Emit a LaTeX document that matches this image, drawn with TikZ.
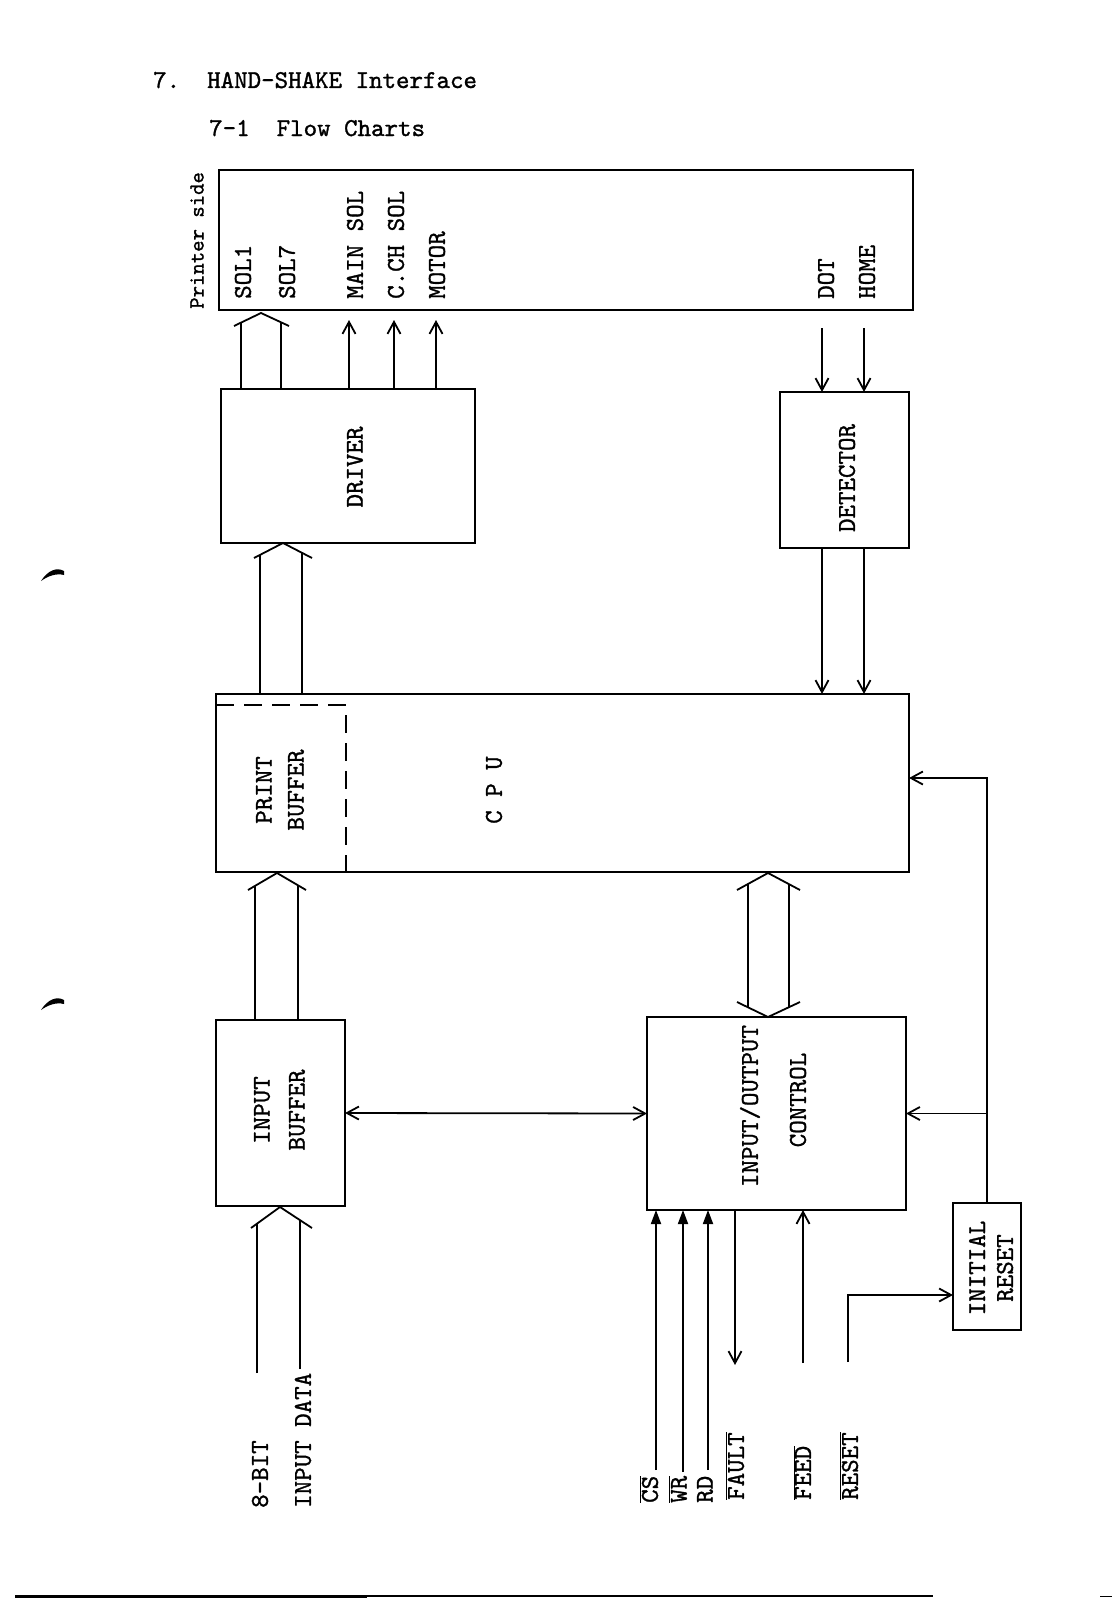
\documentclass[tikz,border=0pt]{standalone}
\usepackage{fontspec}
\newfontfamily\tw[Extension=.otf, FakeBold=1.2]{lmmono10-regular}
\usetikzlibrary{arrows.meta}
\tikzset{
  blk/.style={draw, line width=2.2pt, inner sep=0pt, outer sep=0pt, anchor=north west},
  txt/.style={inner sep=0pt, font=\tw\fontsize{25.7}{30}\selectfont},
  vtxt/.style={txt, rotate=90},
  wire/.style={line width=1.8pt},
  bus/.style={wire, line join=miter},
  oarr/.style={wire, -{Straight Barb[length=12pt,width=13pt]}},
  farr/.style={wire, -{Triangle[length=14pt,width=10pt]}},
  barr/.style={wire, {Straight Barb[length=12pt,width=13pt]}-{Straight Barb[length=12pt,width=13pt]}},
}
\begin{document}
\begin{tikzpicture}[x=1pt,y=-1pt,line join=miter]
\useasboundingbox (0,0) rectangle (1119,1600);
%% Heading
\node[txt, anchor=base west] (head) at (153,88) {7.\ \ HAND-SHAKE Interface};
\node[txt, anchor=base west] (sub) at (209,136) {7-1\ \ Flow Charts};
%% Blocks
\node[blk, minimum width=694pt, minimum height=140pt] (prn) at (219,170) {};
\node[blk, minimum width=254pt, minimum height=154pt] (drv) at (221,389) {};
\node[blk, minimum width=129pt, minimum height=156pt] (det) at (780,392) {};
\node[blk, minimum width=693pt, minimum height=178pt] (cpu) at (216,694) {};
\node[blk, minimum width=129pt, minimum height=186pt] (inb) at (216,1020) {};
\node[blk, minimum width=259pt, minimum height=193pt] (ioc) at (647,1017) {};
\node[blk, minimum width=68pt, minimum height=127pt] (rst) at (953,1203) {};
%% Block texts
\node[vtxt, anchor=west, font=\tw\fontsize{21.7}{25}\selectfont] (side) at (197,309) {Printer side};
\foreach \x/\t/\n in {243/SOL1/sa, 287/SOL7/sb, 355/MAIN SOL/sc, 396/C.CH SOL/sd,
    437/MOTOR/se, 826/DOT/sf, 867/HOME/sg}
  \node[vtxt, anchor=west] (\n) at (\x,299) {\t};
\node[vtxt] (drvtxt) at (355,467) {DRIVER};
\node[vtxt] (dettxt) at (847,478) {DETECTOR};
\node[vtxt] (pb1) at (264,790) {PRINT};
\node[vtxt] (pb2) at (296,790) {BUFFER};
\node[vtxt] (cputxt) at (494,790) {C P U};
\node[vtxt] (ib1) at (262,1110) {INPUT};
\node[vtxt] (ib2) at (297,1110) {BUFFER};
\node[vtxt] (io1) at (750,1106) {INPUT/OUTPUT};
\node[vtxt] (io2) at (798,1100) {CONTROL};
\node[vtxt] (ir1) at (977,1268) {INITIAL};
\node[vtxt] (ir2) at (1005,1268) {RESET};
%% Print buffer (dashed)
\draw[wire, dash pattern=on 18pt off 10pt] (216,705) -- (346,705) -- (346,872);
%% Bus: DRIVER -> printer
\coordinate (pa) at (241,322.5);
\coordinate (pb) at (281,322.5);
\draw[wire] (pa |- drv.north) -- (pa);
\draw[wire] (pb |- drv.north) -- (pb);
\draw[bus] (234,326) -- (261,313) -- (289,326);
%% DRIVER -> MAIN SOL, C.CH SOL, MOTOR
\foreach \x/\n in {349/c, 394/d, 436/e} {
  \coordinate (t\n) at (\x,320);
  \draw[oarr] (t\n |- drv.north) -- (t\n);
}
%% DOT, HOME -> DETECTOR -> CPU
\foreach \x/\n in {822/f, 864/g} {
  \coordinate (t\n) at (\x,328);
  \draw[oarr] (t\n) -- (t\n |- det.north);
  \draw[oarr] (t\n |- det.south) -- (t\n |- cpu.north);
}
%% Bus: CPU -> DRIVER
\coordinate (ca) at (260,555);
\coordinate (cb) at (302,553);
\draw[wire] (ca |- cpu.north) -- (ca);
\draw[wire] (cb |- cpu.north) -- (cb);
\draw[bus] (254,558) -- (283,543) -- (312,558);
%% Bus: INPUT BUFFER -> CPU
\coordinate (ua) at (255,886);
\coordinate (ub) at (298,885.5);
\draw[wire] (ua |- inb.north) -- (ua);
\draw[wire] (ub |- inb.north) -- (ub);
\draw[bus] (248,890) -- (277,873) -- (306,890);
%% Bus: CPU <-> INPUT/OUTPUT CONTROL
\draw[wire] (748,884) -- (748,1007.3);
\draw[wire] (789,884.2) -- (789,1007.2);
\draw[bus] (737,890) -- (768,873) -- (800,890);
\draw[bus] (737,1002) -- (768,1017) -- (800,1002);
%% INPUT BUFFER <-> INPUT/OUTPUT CONTROL
\draw[barr] (inb.east) -- (ioc.west);
%% INITIAL RESET -> CPU, INPUT/OUTPUT CONTROL
\coordinate (rj) at (987,778);
\draw[oarr] (rst.north) -- (rj) -- (rj -| cpu.east);
\draw[oarr] (rst.north |- ioc.east) -- (ioc.east);
%% 8-BIT INPUT DATA -> INPUT BUFFER
\coordinate (ia) at (257,1373);
\coordinate (ib) at (300,1369);
\draw[wire] (ia) -- (257,1224);
\draw[wire] (ib) -- (300,1220);
\draw[bus] (251,1228) -- (280,1207) -- (312,1228);
\node[vtxt, anchor=west] (l8) at (260,1508) {8-BIT};
\node[vtxt, anchor=west] (lin) at (303,1508) {INPUT DATA};
%% Control signals
\coordinate (cs) at (656,1470);
\coordinate (wr) at (683,1472);
\coordinate (rd) at (708,1470);
\coordinate (fl) at (735,1365);
\coordinate (fd) at (803,1363);
\coordinate (rs) at (848,1362);
\coordinate (rk) at (848,1295);
\draw[farr] (cs) -- (cs |- ioc.south);
\draw[farr] (wr) -- (wr |- ioc.south);
\draw[farr] (rd) -- (rd |- ioc.south);
\draw[oarr] (fl |- ioc.south) -- (fl);
\draw[oarr] (fd) -- (fd |- ioc.south);
\draw[oarr] (rs) -- (rk) -- (rk -| rst.west);
\node[vtxt, anchor=west] (lcs) at (649,1503) {$\overline{\mbox{CS}}$};
\node[vtxt, anchor=west] (lwr) at (678,1503) {$\overline{\mbox{WR}}$};
\node[vtxt, anchor=west] (lrd) at (705,1503) {RD};
\node[vtxt, anchor=west] (lfl) at (735,1500) {$\overline{\mbox{FAULT}}$};
\node[vtxt, anchor=west] (lfd) at (802,1500) {$\overline{\mbox{FEED}}$};
\node[vtxt, anchor=west] (lrs) at (849,1500) {$\overline{\mbox{RESET}}$};
%% Page marks
\fill (41,581) .. controls (48,570) and (57,567) .. (64,571) -- (64,575) .. controls (56,573) and (48,576) .. (41,581) -- cycle;
\fill (41,1010) .. controls (48,999) and (57,996) .. (64,1000) -- (64,1004) .. controls (56,1002) and (48,1005) .. (41,1010) -- cycle;
\draw[line width=3pt] (15,1596) -- (367,1596);
\draw[line width=1.2pt] (367,1596) -- (933,1596);
\draw[line width=1pt] (1100,1596) -- (1112,1596);
\end{tikzpicture}
\end{document}
